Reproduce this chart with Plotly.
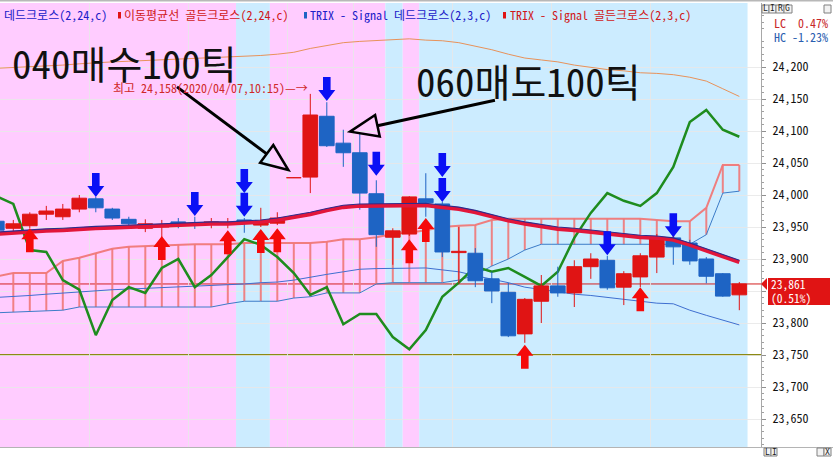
import plotly.graph_objects as go

FONT = "Noto Sans Mono CJK KR, Noto Sans CJK KR, DejaVu Sans Mono, monospace"

# ---------------- data ----------------
candle_idx = list(range(46))
opens = [23959, 23948, 23952, 23970, 23966, 23978, 23994, 23978, 23962, 23948,
         23950, 23958, 23955, 23955, 23955, 23961, 23953, 23956, 24027, 24028,
         24123, 24081, 24066, 24002, 23934, 23939, 23994, 23986, 23910, 23909,
         23869, 23848, 23783, 23834, 23858, 23847, 23888, 23898, 23856, 23872,
         23903, 23933, 23925, 23900, 23877, 23844]
highs = [23962, 23961, 23973, 23983, 23986, 24000, 23997, 23980, 23966, 23962,
         23961, 23964, 23966, 23964, 23964, 23964, 23980, 23973, 24028, 24158,
         24145, 24102, 24097, 24023, 23948, 23998, 24034, 23989, 23950, 23917,
         23880, 23863, 23839, 23875, 23888, 23898, 23909, 23905, 23881, 23909,
         23939, 23937, 23930, 23903, 23878, 23864]
lows = [23940, 23942, 23948, 23961, 23961, 23973, 23973, 23961, 23947, 23942,
        23934, 23948, 23947, 23948, 23948, 23941, 23950, 23953, 24027, 24003,
        24075, 24044, 23977, 23919, 23891, 23936, 23966, 23903, 23862, 23856,
        23831, 23778, 23769, 23800, 23841, 23825, 23869, 23852, 23828, 23856,
        23878, 23891, 23891, 23862, 23841, 23820]
closes = [23945, 23955, 23970, 23975, 23978, 23995, 23980, 23964, 23955, 23955,
          23952, 23955, 23953, 23958, 23957, 23958, 23958, 23964, 24028, 24125,
          24077, 24066, 24003, 23938, 23944, 23997, 23988, 23911, 23912, 23866,
          23850, 23780, 23837, 23858, 23847, 23888, 23900, 23855, 23877, 23905,
          23933, 23919, 23897, 23873, 23842, 23861]

ma_long = [23939, 23941, 23942, 23944, 23945, 23947, 23948, 23949, 23950, 23952,
           23952, 23953, 23954, 23955, 23955, 23956, 23958, 23961, 23965, 23970,
           23976, 23981, 23983, 23983, 23983, 23984, 23984, 23981, 23978, 23973,
           23966, 23960, 23955, 23951, 23947, 23945, 23942, 23940, 23936, 23934,
           23933, 23930, 23922, 23913, 23903, 23895]
ma_short = [23942, 23944, 23945, 23947, 23948, 23950, 23951, 23952, 23953, 23955,
            23955, 23956, 23957, 23958, 23958, 23959, 23961, 23964, 23968, 23973,
            23979, 23984, 23986, 23986, 23986, 23987, 23987, 23984, 23981, 23976,
            23969, 23963, 23958, 23954, 23950, 23948, 23945, 23943, 23939, 23937,
            23936, 23933, 23925, 23916, 23906, 23898]
bb_upper = [24198, 24199, 24200, 24202, 24203, 24205, 24207, 24208, 24209, 24210,
            24211, 24213, 24214, 24215, 24216, 24217, 24218, 24220, 24223, 24229,
            24234, 24238, 24240, 24241, 24243, 24244, 24242, 24241, 24238, 24233,
            24227, 24220, 24214, 24211, 24208, 24203, 24199, 24196, 24194, 24191,
            24190, 24188, 24184, 24178, 24166, 24154]
bb_lower = [23840, 23841, 23843, 23845, 23847, 23848, 23851, 23852, 23853, 23854,
            23855, 23856, 23858, 23859, 23859, 23861, 23863, 23864, 23867, 23872,
            23876, 23880, 23884, 23885, 23885, 23886, 23886, 23883, 23880, 23874,
            23869, 23863, 23856, 23852, 23848, 23845, 23843, 23840, 23836, 23834,
            23831, 23830, 23820, 23812, 23805, 23797]
span_a = [23873, 23878, 23878, 23878, 23897, 23902, 23909, 23916, 23919, 23920,
          23922, 23923, 23923, 23923, 23923, 23925, 23925, 23925, 23925, 23925,
          23927, 23931, 23931, 23934, 23939, 23941, 23945, 23950, 23952, 23953,
          23961, 23963, 23963, 23963, 23964, 23964, 23964, 23963, 23963, 23963,
          23961, 23959, 23959, 23980, 24047, 24047]
span_b = [23816, 23817, 23819, 23819, 23820, 23825, 23825, 23825, 23825, 23825,
          23825, 23825, 23825, 23825, 23830, 23834, 23834, 23834, 23839, 23841,
          23847, 23847, 23847, 23861, 23863, 23863, 23863, 23863, 23867, 23875,
          23889, 23900, 23914, 23923, 23923, 23923, 23923, 23923, 23923, 23923,
          23923, 23923, 23923, 23938, 24003, 24006]
trix = [23998, 23986, 23914, 23911, 23867, 23852, 23781, 23836, 23856, 23847,
        23886, 23900, 23856, 23875, 23903, 23931, 23922, 23903, 23878, 23844,
        23856, 23798, 23814, 23814, 23778, 23759, 23789, 23841, 23863, 23888,
        23880, 23886, 23872, 23858, 23880, 23933, 23972, 24003, 23991, 23983,
        24003, 24044, 24114, 24133, 24102, 24091]

dead_x = [6, 12, 15, 15, 20, 23, 27, 27, 37, 41]
dead_y = [23997, 23967, 24003, 23966, 24147, 24030, 24028, 23989, 23906, 23934]
gold_x = [2, 10, 14, 16, 17, 25, 26, 32, 39]
gold_y = [23948, 23936, 23945, 23947, 23948, 23931, 23964, 23766, 23856]

band_x0 = [-1, 14.5, 16.55, 23.55, 24.6, 25.6]
band_x1 = [14.5, 16.55, 23.55, 24.6, 25.6, 45.5]
band_kind = ["pink", "blue", "pink", "blue", "pink", "blue"]
grid_x = [5.6, 11.6, 17.6, 21.6, 27.6, 33.6, 39.6]
y_ticks = [23650, 23700, 23750, 23800, 23850, 23900, 23950, 24000, 24050, 24100, 24150, 24200]
last_price = 23861
last_change = "(0.51%)"
support_level = 23750
high_label = "최고 24,158(2020/04/07,10:15)—→"
buy_text = "040매수100틱"
sell_text = "060매도100틱"

# ---------------- geometry helpers ----------------
XR = [0.194, 46.315]
YR = [23606.25, 24300.0]
PW, PH, PT = 761, 444, 3


def px_x(j):
    return (j - XR[0]) / (XR[1] - XR[0]) * PW


def px_y(v):
    return PT + (YR[1] - v) / (YR[1] - YR[0]) * PH


def x_of(p):
    return XR[0] + p / PW * (XR[1] - XR[0])


def y_of(py):
    return YR[1] - (py - PT) / PH * (YR[1] - YR[0])


def pap_x(p):
    return p / PW


def pap_y(py):
    return 1 - (py - PT) / PH


RED = "#E01414"
BLUE = "#1E64C4"
PINK = "#FFCCFF"
LBLUE = "#CCECFF"

fig = go.Figure()

# cloud hatching
hx, hy = [], []
for j in candle_idx:
    hx += [j, j, None]
    hy += [span_b[j], span_a[j], None]
fig.add_trace(go.Scatter(x=hx, y=hy, mode="lines", line=dict(color="rgba(240,120,120,0.9)", width=2), hoverinfo="skip"))
fig.add_trace(go.Scatter(x=candle_idx, y=span_a, mode="lines", line=dict(color="rgba(240,120,120,0.95)", width=2), hoverinfo="skip"))
fig.add_trace(go.Scatter(x=candle_idx, y=span_b, mode="lines", line=dict(color="#3C7CC8", width=1), hoverinfo="skip"))
# bollinger
fig.add_trace(go.Scatter(x=candle_idx, y=bb_upper, mode="lines", line=dict(color="#E8925A", width=1), hoverinfo="skip"))
fig.add_trace(go.Scatter(x=candle_idx, y=bb_lower, mode="lines", line=dict(color="#3F6FD0", width=1), hoverinfo="skip"))
# trix-like green line
fig.add_trace(go.Scatter(x=candle_idx, y=trix, mode="lines", line=dict(color="#1E8C1E", width=2.5), hoverinfo="skip"))

# candles
hw = 0.445
for up, col in ((True, RED), (False, BLUE)):
    wx, wy, bx, by = [], [], [], []
    for j in candle_idx:
        o, h, l, c = opens[j], highs[j], lows[j], closes[j]
        if (c >= o) != up:
            continue
        wx += [j, j, None]
        wy += [l, h, None]
        lo, hi = min(o, c), max(o, c)
        bx += [j - hw, j + hw, j + hw, j - hw, j - hw, None]
        by += [lo, lo, hi, hi, lo, None]
    fig.add_trace(go.Scatter(x=wx, y=wy, mode="lines", line=dict(color=col, width=1), hoverinfo="skip"))
    fig.add_trace(go.Scatter(x=bx, y=by, mode="lines", fill="toself", fillcolor=col,
                             line=dict(color=col, width=1), hoverinfo="skip"))

# moving averages
fig.add_trace(go.Scatter(x=candle_idx, y=ma_long, mode="lines", line=dict(color="#E2163A", width=4), hoverinfo="skip"))
fig.add_trace(go.Scatter(x=candle_idx, y=ma_short, mode="lines", line=dict(color="#2E2C8C", width=1.1), hoverinfo="skip"))

shapes = []
# background bands
for x0, x1, k in zip(band_x0, band_x1, band_kind):
    shapes.append(dict(type="rect", xref="x", yref="paper", x0=x0, x1=x1, y0=0, y1=1,
                       fillcolor=PINK if k == "pink" else LBLUE, line=dict(width=0), layer="below"))
# horizontal reference lines
shapes.append(dict(type="line", xref="paper", yref="y", x0=0, x1=1, y0=support_level, y1=support_level,
                   line=dict(color="#8C8A14", width=2), layer="between"))
shapes.append(dict(type="line", xref="paper", yref="y", x0=0, x1=1, y0=last_price, y1=last_price,
                   line=dict(color="#D42020", width=1), layer="between"))

# signal block arrows
DOWN = "M 0 0 L -8.5 11 L -3.8 11 L -3.8 24 L 3.8 24 L 3.8 11 L 8.5 11 Z"
UP = "M 0 0 L -8.5 -11 L -3.8 -11 L -3.8 -24 L 3.8 -24 L 3.8 -11 L 8.5 -11 Z"
for xs, ys, path, col in ((dead_x, dead_y, DOWN, "#0A10F5"), (gold_x, gold_y, UP, "#F50A0A")):
    for xv, yv in zip(xs, ys):
        shapes.append(dict(type="path", xref="x", yref="y", xsizemode="pixel", ysizemode="pixel",
                           xanchor=xv, yanchor=yv, path=path, fillcolor=col, line=dict(width=0),
                           layer="above"))


# black annotation arrows with open heads
def open_arrow(tail, tip, head_len=27, half_w=11):
    tx, ty = px_x(tail[0]), px_y(tail[1])
    hx_, hy_ = px_x(tip[0]), px_y(tip[1])
    dx, dy = hx_ - tx, hy_ - ty
    ln = (dx * dx + dy * dy) ** 0.5
    ux, uy = dx / ln, dy / ln
    nx, ny = -uy, ux
    bxp, byp = hx_ - ux * head_len, hy_ - uy * head_len
    c1 = (bxp + nx * half_w, byp + ny * half_w)
    c2 = (bxp - nx * half_w, byp - ny * half_w)
    out = [dict(type="line", xref="x", yref="y", x0=tail[0], y0=tail[1], x1=x_of(bxp), y1=y_of(byp),
                line=dict(color="black", width=3), layer="above")]
    path = "M {} {} L {} {} L {} {} Z".format(tip[0], tip[1], x_of(c1[0]), y_of(c1[1]), x_of(c2[0]), y_of(c2[1]))
    out.append(dict(type="path", xref="x", yref="y", path=path, fillcolor="rgba(0,0,0,0)",
                    line=dict(color="black", width=2.5), layer="above"))
    return out


shapes += open_arrow((10.92, 24169), (17.67, 24039))
shapes += open_arrow((30.19, 24148), (21.41, 24099), head_len=28)

# legend markers
for p0, col in ((118, RED), (304, BLUE), (503, RED)):
    shapes.append(dict(type="rect", xref="paper", yref="paper", x0=pap_x(p0), x1=pap_x(p0 + 3),
                       y0=pap_y(18.5), y1=pap_y(12), fillcolor=col, line=dict(width=0), layer="above"))

# current price tag
lp = px_y(last_price)
shapes.append(dict(type="path", xref="paper", yref="paper",
                   path="M {} {} L {} {} L {} {} Z".format(pap_x(761), pap_y(lp), pap_x(767), pap_y(lp - 6),
                                                        pap_x(767), pap_y(lp + 6)),
                   fillcolor="#E01414", line=dict(width=0), layer="above"))
shapes.append(dict(type="rect", xref="paper", yref="paper", x0=pap_x(768), x1=pap_x(830),
                   y0=pap_y(lp + 21), y1=pap_y(lp - 6), fillcolor="#E01414", line=dict(width=0), layer="above"))
# frame lines
shapes.append(dict(type="line", xref="paper", yref="paper", x0=0, x1=pap_x(833), y0=pap_y(447.5), y1=pap_y(447.5),
                   line=dict(color="#B4B4B4", width=1), layer="above"))
shapes.append(dict(type="line", xref="paper", yref="paper", x0=0, x1=pap_x(833), y0=pap_y(0.5), y1=pap_y(0.5),
                   line=dict(color="#B8B8B8", width=2), layer="above"))

ann = []


def txt(text, p, py, color, size=12, anchor="left", family=FONT):
    ann.append(dict(text=text, xref="paper", yref="paper", x=pap_x(p), y=pap_y(py), xanchor=anchor,
                    yanchor="middle", showarrow=False, font=dict(family=family, size=size, color=color)))


LEG_BLUE = "#2020C8"
LEG_RED = "#D01818"
txt("데드크로스(2,24,c)", 2, 15, LEG_BLUE)
txt("이동평균선 골든크로스(2,24,c)", 122, 15, LEG_RED)
txt("TRIX - Signal 데드크로스(2,3,c)", 308, 15, LEG_BLUE)
txt("TRIX - Signal 골든크로스(2,3,c)", 508, 15, LEG_RED)

txt(buy_text, 10, 62, "#111111", size=39)
txt(sell_text, 414, 80, "#111111", size=39)
txt(high_label, 310, 88, "#D02828", size=12, anchor="right")

txt("LC  0.47%", 772, 22, "#C82828")
txt("HC -1.23%", 772, 36, "#2A5EB0")

txt("{:,}".format(last_price), 769, lp + 0.5, "white", size=11.5)
txt(last_change, 769, lp + 14.5, "white", size=11.5)

# small chart-control buttons (top and bottom of the price scale)
for lab, p0, p1, y0, y1 in (("L", 762, 769, 5, 13), ("I", 769, 776, 5, 13), ("R", 776, 784, 5, 13),
                            ("G", 784, 792, 5, 13), ("", 824, 831, 5, 13),
                            ("L", 764, 771, 448, 456), ("I", 771, 777, 448, 456),
                            ("", 817, 824, 448, 456), ("X", 824, 831, 448, 456)):
    shapes.append(dict(type="rect", xref="paper", yref="paper", x0=pap_x(p0), x1=pap_x(p1),
                       y0=pap_y(y1), y1=pap_y(y0), fillcolor="#F2F2F2",
                       line=dict(color="#808080", width=1), layer="above"))
    if lab:
        ann.append(dict(text=lab, xref="paper", yref="paper", x=pap_x((p0 + p1) / 2), y=pap_y((y0 + y1) / 2),
                        xanchor="center", yanchor="middle", showarrow=False, borderpad=0,
                        font=dict(family="DejaVu Sans Mono", size=8, color="#202020")))

minor_vals = [v for v in range(23610, 24300, 10) if v % 50 != 0]

fig.update_layout(
    width=833, height=457,
    margin=dict(l=0, r=72, t=3, b=10),
    paper_bgcolor="white", plot_bgcolor="white",
    showlegend=False,
    shapes=shapes, annotations=ann,
    xaxis=dict(range=XR, tickmode="array", tickvals=grid_x, showticklabels=False, ticks="",
               showgrid=True, gridcolor="rgba(232,232,232,0.85)", gridwidth=1, zeroline=False, showline=False,
               fixedrange=True),
    yaxis=dict(range=YR, side="right", tickmode="array", tickvals=y_ticks, tickformat=",d",
               showgrid=True, gridcolor="rgba(232,232,232,0.85)", gridwidth=1, zeroline=False,
               ticks="outside", ticklen=4, tickcolor="#909090", showline=True, linecolor="#A8A8A8",
               linewidth=1, ticklabelstandoff=4,
               tickfont=dict(family=FONT, size=12, color="#111111"),
               minor=dict(tickmode="array", tickvals=minor_vals, ticks="outside", ticklen=2,
                          tickcolor="#A0A0A0", showgrid=False),
               fixedrange=True),
)

fig.write_html("out.html", config={"displayModeBar": False},
               post_script="document.body.style.margin='0px';document.body.style.overflow='hidden';")
